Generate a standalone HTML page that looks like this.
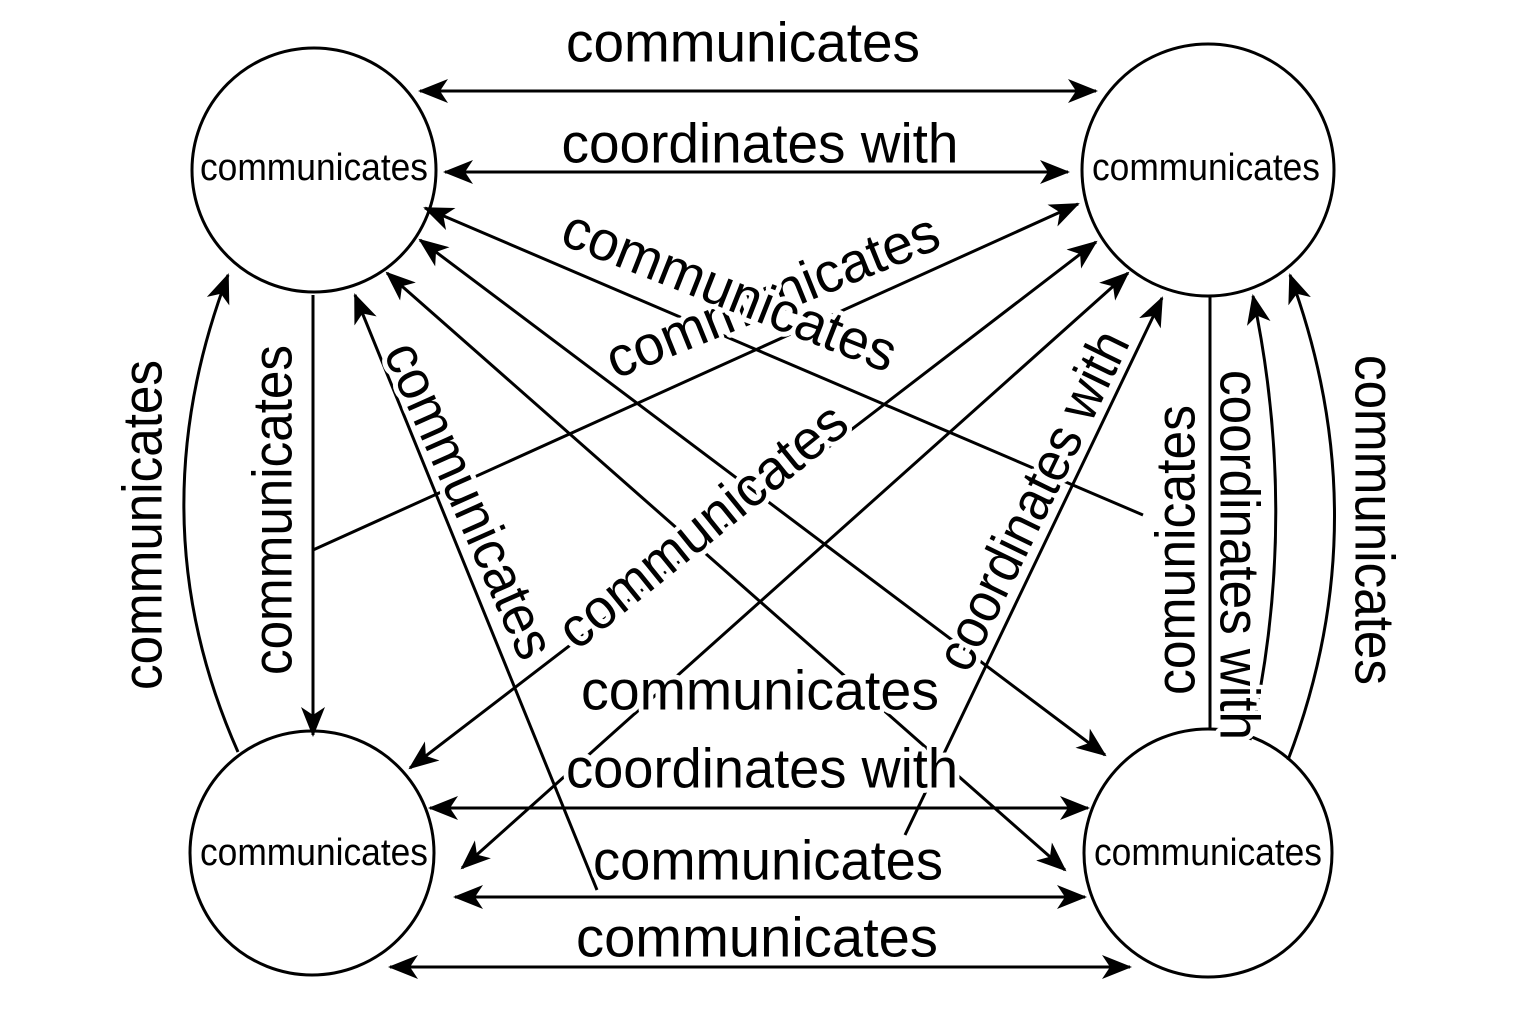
<!DOCTYPE html>
<html><head><meta charset="utf-8"><style>
html,body{margin:0;padding:0;background:#fff;}
svg{display:block;}
text{font-family:"Liberation Sans",Arial,sans-serif;fill:#000;}
.l{font-size:56px;stroke:#fff;stroke-width:10px;paint-order:stroke;stroke-linejoin:round;}
.n{font-size:38px;}
</style></head><body>
<svg width="1536" height="1024" viewBox="0 0 1536 1024" xmlns="http://www.w3.org/2000/svg">
<defs>
<marker id="a" markerWidth="30" markerHeight="24" refX="28" refY="12" orient="auto-start-reverse" markerUnits="userSpaceOnUse">
<path d="M0,0 L30,12 L0,24 L8,12 Z" fill="#000"/>
</marker>
</defs>
<g fill="none" stroke="#000" stroke-width="3">
<circle cx="314" cy="170" r="122"/>
<circle cx="1208" cy="170" r="126"/>
<circle cx="312" cy="853" r="122"/>
<circle cx="1208" cy="853" r="124"/>
<line x1="420" y1="91" x2="1096" y2="91" marker-start="url(#a)" marker-end="url(#a)"/>
<line x1="445" y1="172" x2="1068" y2="172" marker-start="url(#a)" marker-end="url(#a)"/>
<line x1="430" y1="808" x2="1088" y2="808" marker-start="url(#a)" marker-end="url(#a)"/>
<line x1="455" y1="897" x2="1085" y2="897" marker-start="url(#a)" marker-end="url(#a)"/>
<line x1="390" y1="967" x2="1130" y2="967" marker-start="url(#a)" marker-end="url(#a)"/>
<line x1="313" y1="295" x2="313" y2="735" marker-end="url(#a)"/>
<line x1="1210" y1="296" x2="1210" y2="730"/>
<path d="M238,752 Q135,520 228,275" marker-end="url(#a)"/>
<path d="M1250,740 Q1300,520 1253,296" marker-end="url(#a)"/>
<path d="M1288,760 Q1380,520 1290,275" marker-end="url(#a)"/>
<line x1="1143" y1="515" x2="425" y2="208" marker-end="url(#a)"/>
<line x1="313" y1="550" x2="1078" y2="204" marker-end="url(#a)"/>
<line x1="597" y1="890" x2="355" y2="295" marker-end="url(#a)"/>
<line x1="420" y1="240" x2="1105" y2="755" marker-start="url(#a)" marker-end="url(#a)"/>
<line x1="387" y1="273" x2="1065" y2="870" marker-start="url(#a)" marker-end="url(#a)"/>
<line x1="410" y1="768" x2="1096" y2="242" marker-start="url(#a)" marker-end="url(#a)"/>
<line x1="462" y1="868" x2="1128" y2="273" marker-start="url(#a)" marker-end="url(#a)"/>
<line x1="905" y1="835" x2="1162" y2="298" marker-end="url(#a)"/>
</g>
<text class="n" x="314" y="168" text-anchor="middle" dominant-baseline="central" textLength="228" lengthAdjust="spacingAndGlyphs">communicates</text>
<text class="n" x="1206" y="168" text-anchor="middle" dominant-baseline="central" textLength="228" lengthAdjust="spacingAndGlyphs">communicates</text>
<text class="n" x="314" y="853" text-anchor="middle" dominant-baseline="central" textLength="228" lengthAdjust="spacingAndGlyphs">communicates</text>
<text class="n" x="1208" y="853" text-anchor="middle" dominant-baseline="central" textLength="228" lengthAdjust="spacingAndGlyphs">communicates</text>
<g dominant-baseline="central" text-anchor="middle">
<text class="l" x="743" y="42" textLength="354" lengthAdjust="spacingAndGlyphs">communicates</text>
<text class="l" x="760" y="143" textLength="397" lengthAdjust="spacingAndGlyphs">coordinates with</text>
<text class="l" transform="translate(772,295) rotate(-22)" textLength="354" lengthAdjust="spacingAndGlyphs">communicates</text>
<text class="l" transform="translate(730,290) rotate(21.5)" textLength="354" lengthAdjust="spacingAndGlyphs">communicates</text>
<text class="l" transform="translate(470,500) rotate(66)" textLength="340" lengthAdjust="spacingAndGlyphs">communicates</text>
<text class="l" transform="translate(702,525) rotate(-39)" textLength="354" lengthAdjust="spacingAndGlyphs">communicates</text>
<text class="l" transform="translate(1032,500) rotate(-64)" textLength="370" lengthAdjust="spacingAndGlyphs">coordinates with</text>
<text class="l" transform="translate(1175,550) rotate(-90)" textLength="290" lengthAdjust="spacingAndGlyphs">comunicates</text>
<text class="l" transform="translate(1240,555) rotate(90)" textLength="370" lengthAdjust="spacingAndGlyphs">coordinates with</text>
<text class="l" transform="translate(1375,520) rotate(90)" textLength="330" lengthAdjust="spacingAndGlyphs">communicates</text>
<text class="l" transform="translate(142,525) rotate(-90)" textLength="330" lengthAdjust="spacingAndGlyphs">communicates</text>
<text class="l" transform="translate(272,510) rotate(-90)" textLength="330" lengthAdjust="spacingAndGlyphs">communicates</text>
<text class="l" x="760" y="690" textLength="358" lengthAdjust="spacingAndGlyphs">communicates</text>
<text class="l" x="762" y="768" textLength="392" lengthAdjust="spacingAndGlyphs">coordinates with</text>
<text class="l" x="768" y="860" textLength="350" lengthAdjust="spacingAndGlyphs">communicates</text>
<text class="l" x="757" y="937" textLength="362" lengthAdjust="spacingAndGlyphs">communicates</text>
</g>
</svg>
</body></html>
